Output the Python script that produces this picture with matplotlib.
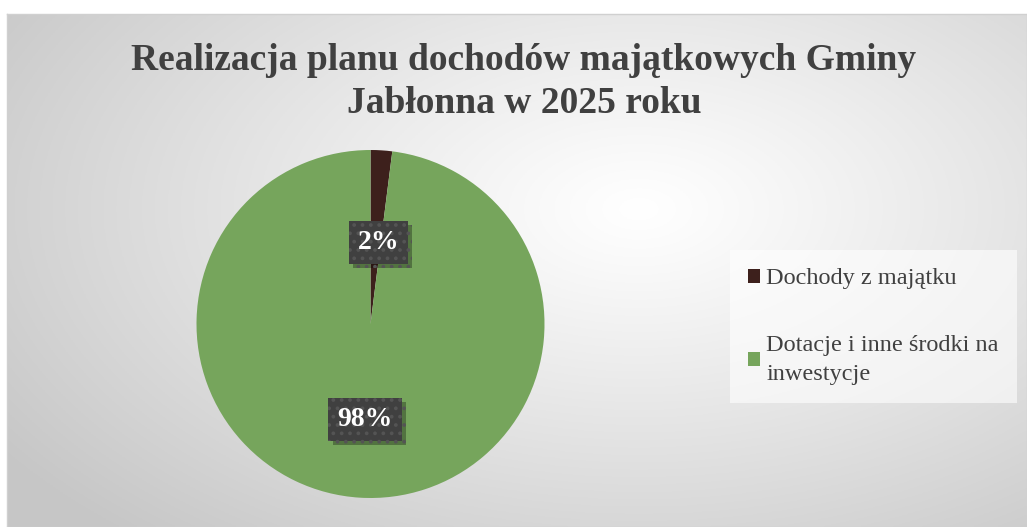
"""Realizacja planu dochodów majątkowych Gminy Jabłonna w 2025 roku - wykres kołowy."""
import matplotlib
matplotlib.use("Agg")
import matplotlib.pyplot as plt
import matplotlib.patheffects as pe
from matplotlib.patches import Patch
import numpy as np

kategorie = ["Dochody z majątku", "Dotacje i inne środki na\ninwestycje"]
udzialy = [2, 98]
kolory = ["#3D201C", "#76A55C"]
tytul = "Realizacja planu dochodów majątkowych Gminy\nJabłonna w 2025 roku"

W, H = 1027, 527
plt.rcParams["hatch.linewidth"] = 1.5
fig = plt.figure(figsize=(W / 100, H / 100), dpi=100, facecolor="white")

# tło: gradient radialny (biały środek, szare brzegi)
bg = fig.add_axes([7 / W, 0, 1 - 7 / W, 1 - 14 / H])
xx, yy = np.meshgrid(np.linspace(0, 1, 400), np.linspace(0, 1, 220))
d = np.sqrt(((xx - 0.62) / 0.75) ** 2 + ((yy - 0.38) / 0.85) ** 2)
d = np.clip(d, 0, 1)
g = 1.0 - 0.22 * d ** 1.1
bg.imshow(np.dstack([g, g, g]), extent=[0, 1, 0, 1], aspect="auto", origin="upper")
bg.set_xticks([]); bg.set_yticks([])
for s in bg.spines.values():
    s.set_color("#D0D0D0"); s.set_linewidth(1)

fig.text(524 / W, 1 - 82 / H, tytul, ha="center", va="center", fontsize=27,
         fontweight="bold", family="Liberation Serif", color="#404040", linespacing=1.3)

# koło
cx, cy, r = 370.5, 324, 174
ax = fig.add_axes([(cx - r) / W, (H - cy - r) / H, 2 * r / W, 2 * r / H])
ax.set_facecolor("none")
wedges, _, pcts = ax.pie(udzialy, colors=kolory, startangle=90, counterclock=False,
                         autopct="%1.0f%%", pctdistance=0.5, radius=1,
                         wedgeprops=dict(linewidth=0))
ax.set_xlim(-1, 1); ax.set_ylim(-1, 1); ax.set_aspect("equal")
pcts[0].set_position((pcts[0].get_position()[0] + 0.015, 0.47))
pcts[1].set_position((pcts[1].get_position()[0], -0.55))
for t in pcts:
    t.set_color("white"); t.set_fontsize(20); t.set_fontweight("bold")
    t.set_family("Liberation Serif")
    t.set_bbox(dict(boxstyle="square,pad=0.32", facecolor="#404040", edgecolor="#545454",
                    linewidth=0, hatch=".."))
    t.get_bbox_patch().set_path_effects(
        [pe.withSimplePatchShadow(offset=(3, -3), shadow_rgbFace="black", alpha=0.3)])

uchwyty = [Patch(facecolor=c, edgecolor="none") for c in kolory]
leg = fig.legend(uchwyty, kategorie, loc="upper left",
                 bbox_to_anchor=(730 / W, 1 - 250 / H), frameon=True, fancybox=False,
                 prop=dict(family="Liberation Serif", size=17.5), labelcolor="#404040",
                 handlelength=0.5, handleheight=0.5, handletextpad=0.25,
                 labelspacing=1.9, borderpad=0.75, borderaxespad=0)
for txt in leg.get_texts():
    txt.set_linespacing(1.45)
leg.get_frame().set_facecolor("white")
leg.get_frame().set_alpha(0.6)
leg.get_frame().set_edgecolor("none")

fig.savefig("out.png", dpi=100, facecolor="white")
